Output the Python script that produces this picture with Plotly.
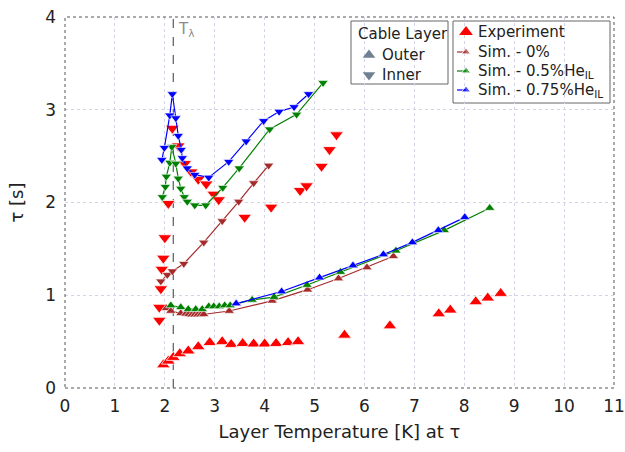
import plotly.graph_objects as go

# ---- Experiment ----
exp_outer_T = [1.97, 2.07, 2.17, 2.30, 2.47, 2.67, 2.90, 3.15, 3.33, 3.56, 3.78, 4.00, 4.23, 4.47, 4.67,
               5.60, 6.51, 7.49, 7.72, 8.23, 8.47, 8.73]
exp_outer_tau = [0.25, 0.29, 0.33, 0.37, 0.40, 0.445, 0.49, 0.50, 0.47, 0.48, 0.475, 0.475, 0.48, 0.49, 0.50,
                 0.57, 0.67, 0.80, 0.84, 0.93, 0.97, 1.02]
exp_inner_T = [1.89, 1.89, 1.92, 1.94, 1.97, 2.00, 2.07, 2.15, 2.27, 2.40, 2.53, 2.67, 2.83, 2.98, 3.08,
               3.60, 4.13, 4.71, 4.84, 5.14, 5.30, 5.44]
exp_inner_tau = [0.73, 0.87, 1.07, 1.28, 1.40, 1.62, 1.99, 2.80, 2.61, 2.42, 2.33, 2.25, 2.20, 2.09, 2.03,
                 1.84, 1.95, 2.13, 2.18, 2.39, 2.57, 2.73]

# ---- Simulation, 0 % ----
s0_outer_T = [2.03, 2.12, 2.32, 2.42, 2.48, 2.54, 2.60, 2.66, 2.72, 2.78, 3.29, 4.15, 4.86, 5.48, 6.05, 6.58]
s0_outer_tau = [0.86, 0.83, 0.805, 0.80, 0.795, 0.79, 0.79, 0.79, 0.79, 0.795, 0.83, 0.94, 1.06, 1.18, 1.30, 1.42]
s0_inner_T = [1.92, 2.05, 2.15, 2.38, 2.78, 3.15, 3.48, 3.78, 4.08]
s0_inner_tau = [1.15, 1.22, 1.26, 1.34, 1.57, 1.80, 2.01, 2.21, 2.40]

# ---- Simulation, 0.5 % He_IL ----
s05_outer_T = [2.12, 2.32, 2.47, 2.62, 2.75, 2.88, 2.98, 3.09, 3.20, 3.31, 3.75, 4.19, 4.85, 5.52, 6.63, 7.60, 8.51]
s05_outer_tau = [0.89, 0.87, 0.85, 0.85, 0.85, 0.88, 0.88, 0.88, 0.89, 0.89, 0.95, 0.98, 1.11, 1.25, 1.48, 1.70, 1.94]
s05_inner_T = [1.95, 2.01, 2.03, 2.10, 2.14, 2.22, 2.27, 2.32, 2.39, 2.45, 2.60, 2.82, 3.16, 3.49, 4.10, 4.64, 5.17]
s05_inner_tau = [2.06, 2.17, 2.28, 2.43, 2.60, 2.42, 2.26, 2.15, 2.06, 2.01, 1.97, 1.97, 2.16, 2.37, 2.79, 2.95, 3.29]

# ---- Simulation, 0.75 % He_IL ----
s075_outer_T = [3.43, 4.34, 5.10, 5.77, 6.38, 6.96, 7.48, 8.01]
s075_outer_tau = [0.91, 1.04, 1.19, 1.32, 1.44, 1.57, 1.70, 1.84]
s075_inner_T = [1.94, 1.99, 2.10, 2.15, 2.22, 2.27, 2.33, 2.35, 2.45, 2.60, 2.88, 3.28, 3.63, 3.98, 4.29, 4.59, 4.88]
s075_inner_tau = [2.46, 2.59, 2.94, 3.17, 2.91, 2.72, 2.57, 2.48, 2.37, 2.30, 2.27, 2.44, 2.66, 2.88, 2.98, 3.03, 3.17]

T_LAMBDA = 2.17
x_ticks = list(range(0, 12))
y_ticks = list(range(0, 5))

FONT = "DejaVu Sans"
RED = "#ff0000"
BROWN = "#a52a2a"
GREEN = "#008000"
BLUE = "#0000ff"
GRAY = "#708090"
INK = "#222222"

sims = [
    ("Sim. - 0%", BROWN, s0_outer_T, s0_outer_tau, s0_inner_T, s0_inner_tau),
    ("Sim. - 0.5%He<sub>IL</sub>", GREEN, s05_outer_T, s05_outer_tau, s05_inner_T, s05_inner_tau),
    ("Sim. - 0.75%He<sub>IL</sub>", BLUE, s075_outer_T, s075_outer_tau, s075_inner_T, s075_inner_tau),
]

fig = go.Figure()

# ---- data ----
fig.add_trace(go.Scatter(
    x=exp_inner_T, y=exp_inner_tau, mode="markers", name="Experiment (inner)",
    marker=dict(symbol="triangle-down", size=12, color=RED, line=dict(color="white", width=0.8))))
fig.add_trace(go.Scatter(
    x=exp_outer_T, y=exp_outer_tau, mode="markers", name="Experiment (outer)",
    marker=dict(symbol="triangle-up", size=12, color=RED, line=dict(color="white", width=0.8))))

for name, col, ot, otau, it, itau in sims:
    fig.add_trace(go.Scatter(
        x=it, y=itau, mode="lines+markers", name=name + " (inner)",
        line=dict(color=col, width=1.2),
        marker=dict(symbol="triangle-down", size=9, color=col, line=dict(color="white", width=0.6))))
    fig.add_trace(go.Scatter(
        x=ot, y=otau, mode="lines+markers", name=name + " (outer)",
        line=dict(color=col, width=1.2),
        marker=dict(symbol="triangle-up", size=9, color=col, line=dict(color="white", width=0.6))))

# ---- lambda-point line ----
fig.add_shape(type="line", x0=T_LAMBDA, x1=T_LAMBDA, y0=0, y1=4, xref="x", yref="y",
              line=dict(color="#666666", width=1.3, dash="dash"), layer="between")
fig.add_annotation(x=T_LAMBDA + 0.05, y=3.87, text="T<sub>λ</sub>", showarrow=False,
                   xanchor="left", yanchor="middle", font=dict(family=FONT, size=15, color="#8a8a8a"))

# ---- dotted frame ----
fig.add_shape(type="rect", xref="paper", yref="paper", x0=0, x1=1, y0=0, y1=1,
              line=dict(color="#555555", width=1, dash="dot"), layer="above")

# ---- legends (drawn on an overlay axis spanning the plot area, 0..1) ----
ML, MR, MT, MB = 65, 11, 17, 64
W, H = 625.0 - ML - MR, 452.0 - MT - MB
X0, Y0 = float(ML), float(452 - MB)


def fx(px):
    return (px - X0) / W


def fy(py):
    return (Y0 - py) / H


LEG_FONT = dict(family=FONT, size=15, color=INK)

# box 1: cable layer
fig.add_shape(type="rect", xref="paper", yref="paper", x0=fx(351), x1=fx(448), y0=fy(84), y1=fy(21),
              line=dict(color="#666666", width=1), fillcolor="white", layer="between")
fig.add_annotation(xref="paper", yref="paper", x=fx(356), y=fy(34), text="Cable Layer",
                   showarrow=False, xanchor="left", yanchor="middle", font=LEG_FONT)
layer_keys = [("Outer", "triangle-up", 55), ("Inner", "triangle-down", 75)]
for label, sym, py in layer_keys:
    fig.add_trace(go.Scatter(x=[fx(369)], y=[fy(py)], xaxis="x2", yaxis="y2", mode="markers",
                             marker=dict(symbol=sym, size=11, color=GRAY), hoverinfo="skip"))
    fig.add_annotation(xref="paper", yref="paper", x=fx(380), y=fy(py), text=label,
                       showarrow=False, xanchor="left", yanchor="middle", font=LEG_FONT)

# box 2: data sources
fig.add_shape(type="rect", xref="paper", yref="paper", x0=fx(453), x1=fx(610), y0=fy(103), y1=fy(21),
              line=dict(color="#666666", width=1), fillcolor="white", layer="between")
fig.add_trace(go.Scatter(x=[fx(466)], y=[fy(32)], xaxis="x2", yaxis="y2", mode="markers",
                         marker=dict(symbol="triangle-up", size=12, color=RED), hoverinfo="skip"))
fig.add_annotation(xref="paper", yref="paper", x=fx(476), y=fy(32), text="Experiment",
                   showarrow=False, xanchor="left", yanchor="middle", font=LEG_FONT)
for (name, col, *_), py in zip(sims, [52, 71, 90]):
    fig.add_trace(go.Scatter(x=[fx(457), fx(466), fx(474)], y=[fy(py)] * 3, xaxis="x2", yaxis="y2",
                             mode="lines+markers", line=dict(color=col, width=1.2, dash="dash"),
                             marker=dict(symbol="triangle-up", size=[0, 8, 0], color=col),
                             hoverinfo="skip"))
    fig.add_annotation(xref="paper", yref="paper", x=fx(476), y=fy(py), text=name,
                       showarrow=False, xanchor="left", yanchor="middle", font=LEG_FONT)

axis_common = dict(showgrid=True, gridcolor="#d4d4e8", griddash="dot", gridwidth=1,
                   zeroline=False, showline=False, ticks="", automargin=False,
                   ticklabeloverflow="allow",
                   tickfont=dict(family=FONT, size=17, color=INK))

fig.update_layout(
    width=625, height=452,
    margin=dict(l=ML, r=MR, t=MT, b=MB),
    paper_bgcolor="white", plot_bgcolor="white",
    font=dict(family=FONT, color=INK),
    showlegend=False,
    xaxis=dict(range=[0, 11], tickvals=x_ticks, ticklabelstandoff=6, **axis_common,
               title=dict(text="Layer Temperature [K] at τ", font=dict(family=FONT, size=18), standoff=10)),
    yaxis=dict(range=[0, 4], tickvals=y_ticks, ticklabelstandoff=8, **axis_common,
               title=dict(text="τ [s]", font=dict(family=FONT, size=18), standoff=16)),
    xaxis2=dict(range=[0, 1], overlaying="x", visible=False, fixedrange=True),
    yaxis2=dict(range=[0, 1], overlaying="y", visible=False, fixedrange=True),
)

fig.write_html("out.html")
